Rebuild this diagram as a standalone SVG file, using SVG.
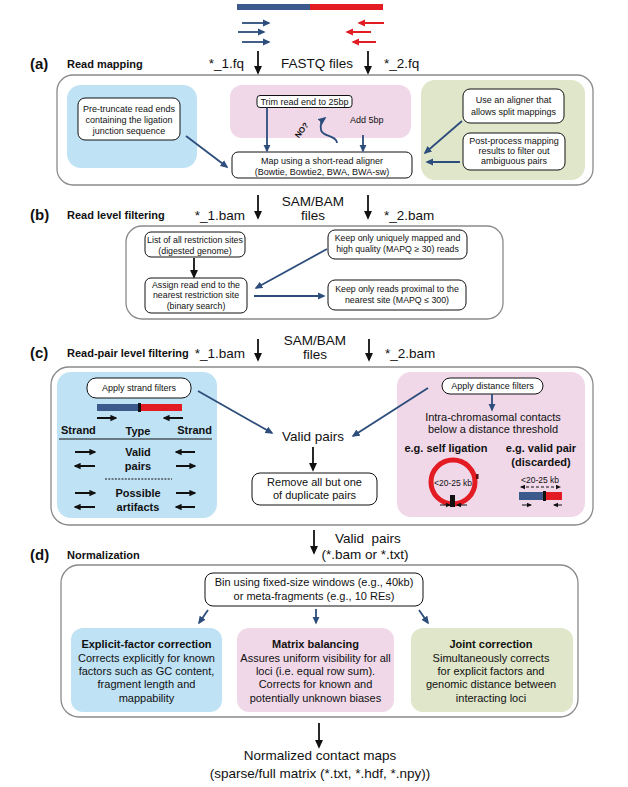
<svg xmlns="http://www.w3.org/2000/svg" width="628" height="787" viewBox="0 0 628 787">
<defs>
<marker id="bh" viewBox="0 0 10 10" refX="8" refY="5" markerWidth="9" markerHeight="9" markerUnits="userSpaceOnUse" orient="auto"><path d="M0,0.5 L10,5 L0,9.5 z" fill="#111"/></marker>
<marker id="nh" viewBox="0 0 10 10" refX="8" refY="5" markerWidth="8" markerHeight="8" markerUnits="userSpaceOnUse" orient="auto"><path d="M0,0.5 L10,5 L0,9.5 z" fill="#2d4d7c"/></marker>
<marker id="rh" viewBox="0 0 10 10" refX="8" refY="5" markerWidth="8" markerHeight="8" markerUnits="userSpaceOnUse" orient="auto"><path d="M0,0.5 L10,5 L0,9.5 z" fill="#e31b23"/></marker>
<marker id="sh" viewBox="0 0 10 10" refX="8" refY="5" markerWidth="7" markerHeight="7" markerUnits="userSpaceOnUse" orient="auto"><path d="M0,0.5 L10,5 L0,9.5 z" fill="#111"/></marker>
<marker id="th" viewBox="0 0 10 10" refX="8" refY="5" markerWidth="5" markerHeight="5" markerUnits="userSpaceOnUse" orient="auto-start-reverse"><path d="M0,0.5 L10,5 L0,9.5 z" fill="#111"/></marker>
</defs>
<style>
text{font-family:"Liberation Sans",Arial,Helvetica,sans-serif;fill:#111}
.big{font-size:13.5px}
.lab{font-size:15px;font-weight:bold}
.hdr{font-size:11px;font-weight:bold}
.s9{font-size:9px}
.s88{font-size:8.8px}
.s11{font-size:11px}
.b11{font-size:11px;font-weight:bold}
.m{text-anchor:middle}
.e{text-anchor:end}
.outer{fill:#fff;stroke:#8a8a8a;stroke-width:1.3}
.box{fill:#fff;stroke:#111;stroke-width:1}
.blue{fill:#bfe2f5}
.pink{fill:#f0d8e8}
.green{fill:#dfe6c9}
.bk{stroke:#111;stroke-width:1.8;fill:none;marker-end:url(#bh)}
.nv{stroke:#2d4d7c;stroke-width:1.8;fill:none;marker-end:url(#nh)}
.rd{stroke:#e31b23;stroke-width:2;fill:none;marker-end:url(#rh)}
.sa{stroke:#111;stroke-width:2;fill:none;marker-end:url(#sh)}
.ta{stroke:#111;stroke-width:1;fill:none;marker-end:url(#th)}
</style>
<rect width="628" height="787" fill="#fff"/>

<!-- top reads -->
<g id="reads">
<rect x="237" y="4" width="73" height="6" fill="#3c5a8c"/>
<rect x="310" y="4" width="73" height="6" fill="#e31b23"/>
<line class="nv" x1="242" y1="23" x2="269" y2="23" stroke-width="2"/>
<line class="nv" x1="238" y1="32" x2="264" y2="32" stroke-width="2"/>
<line class="nv" x1="242" y1="42" x2="269" y2="42" stroke-width="2"/>
<line class="rd" x1="384" y1="23" x2="359" y2="23"/>
<line class="rd" x1="371" y1="32" x2="347" y2="32"/>
<line class="rd" x1="376" y1="42" x2="353" y2="42"/>
</g>

<!-- section (a) -->
<g id="sectionA">
<text class="lab" x="30" y="69">(a)</text>
<text class="hdr" x="67" y="68">Read mapping</text>
<text class="big e" x="244" y="68">*_1.fq</text>
<text class="big m" x="317" y="68">FASTQ files</text>
<text class="big" x="384" y="68">*_2.fq</text>
<rect class="outer" x="57" y="75" width="536" height="110" rx="16"/>
<rect class="blue" x="67" y="85" width="130" height="83" rx="14"/>
<rect class="pink" x="230" y="85" width="181" height="53" rx="12"/>
<rect class="green" x="421" y="80" width="164" height="100" rx="14"/>
</g>
<g id="pretruncate">
<rect class="box" x="78" y="98" width="102" height="42" rx="7"/>
<text class="s9 m" x="129" y="112">Pre-truncate read ends</text>
<text class="s9 m" x="129" y="123">containing the ligation</text>
<text class="s9 m" x="129" y="134">junction sequence</text>
</g>
<g id="trim">
<rect class="box" x="257" y="95.5" width="95" height="12" rx="3"/>
<text class="s9 m" x="304.5" y="104.5">Trim read end to 25bp</text>
</g>
<g id="add5">
<text class="s9" x="350" y="123">Add 5bp</text>
</g>
<g id="no">
<text x="301.5" y="133" font-size="8" font-weight="bold" text-anchor="middle" transform="rotate(-53 301.5 130)">NO?</text>
</g>
<g id="map">
<rect class="box" x="232" y="152" width="180" height="26" rx="6"/>
<text class="s9 m" x="322" y="164">Map using a short-read aligner</text>
<text class="s9 m" x="322" y="175">(Bowtie, Bowtie2, BWA, BWA-sw)</text>
</g>
<g id="splitmap">
<rect class="box" x="463" y="89" width="101" height="34" rx="7"/>
<text class="s9 m" x="513.5" y="103">Use an aligner that</text>
<text class="s9 m" x="513.5" y="114.5">allows split mappings</text>
</g>
<g id="postprocess">
<rect class="box" x="463" y="133" width="102" height="37" rx="7"/>
<text class="s9 m" x="514" y="144">Post-process mapping</text>
<text class="s9 m" x="514" y="154">results to filter out</text>
<text class="s9 m" x="514" y="164">ambiguous pairs</text>
</g>

<!-- section (b) -->
<g id="sectionB">
<text class="lab" x="30" y="220">(b)</text>
<text class="hdr" x="67" y="219">Read level filtering</text>
<text class="big e" x="245" y="220">*_1.bam</text>
<text class="big m" x="313" y="206">SAM/BAM</text>
<text class="big m" x="313" y="220">files</text>
<text class="big" x="384" y="220">*_2.bam</text>
<rect class="outer" x="126" y="226" width="377" height="93" rx="16"/>
</g>
<g id="sites">
<rect class="box" x="145" y="232" width="100" height="25" rx="6"/>
<text class="s88 m" x="195" y="243">List of all restriction sites</text>
<text class="s88 m" x="195" y="253.5">(digested genome)</text>
</g>
<g id="assign">
<rect class="box" x="145" y="278" width="102" height="35" rx="6"/>
<text class="s88 m" x="196" y="287.5">Assign read end to the</text>
<text class="s88 m" x="196" y="298">nearest restriction site</text>
<text class="s88 m" x="196" y="308.5">(binary search)</text>
</g>
<g id="uniq">
<rect class="box" x="328" y="230" width="139" height="29" rx="7"/>
<text class="s88 m" x="397.5" y="241">Keep only uniquely mapped and</text>
<text class="s88 m" x="397.5" y="252">high quality (MAPQ ≥ 30) reads</text>
</g>
<g id="proximal">
<rect class="box" x="328" y="280" width="138" height="30" rx="7"/>
<text class="s88 m" x="397" y="292">Keep only reads proximal to the</text>
<text class="s88 m" x="397" y="303">nearest site (MAPQ ≤ 300)</text>
</g>

<!-- section (c) -->
<g id="sectionC">
<text class="lab" x="30" y="358">(c)</text>
<text class="hdr" x="67" y="357">Read-pair level filtering</text>
<text class="big e" x="245" y="358">*_1.bam</text>
<text class="big m" x="315" y="345">SAM/BAM</text>
<text class="big m" x="315" y="359">files</text>
<text class="big" x="385" y="358">*_2.bam</text>
<rect class="outer" x="51" y="367" width="542" height="158" rx="18"/>
<rect class="blue" x="57" y="372" width="160" height="146" rx="14"/>
<rect class="pink" x="397" y="372" width="188" height="145" rx="14"/>
</g>
<g id="strand">
<rect class="box" x="87" y="378" width="104" height="20" rx="9"/>
<text class="s9 m" x="139" y="391">Apply strand filters</text>
<rect x="97" y="404" width="42" height="7" fill="#3c5a8c"/>
<rect x="141" y="404" width="41" height="7" fill="#e31b23"/>
<rect x="138" y="403" width="3" height="9" fill="#111"/>
<line class="sa" x1="97" y1="418" x2="116" y2="418"/>
<line class="sa" x1="183" y1="418" x2="164" y2="418"/>
<text class="b11" x="61" y="434">Strand</text>
<text class="b11 m" x="138" y="435">Type</text>
<text class="b11 e" x="212" y="434">Strand</text>
<line x1="59" y1="439" x2="212" y2="439" stroke="#111" stroke-width="1"/>
<text class="b11 m" x="138" y="456">Valid</text>
<text class="b11 m" x="138" y="470">pairs</text>
<line x1="105" y1="479" x2="172" y2="479" stroke="#111" stroke-width="1.2" stroke-dasharray="2,1.3"/>
<text class="b11 m" x="138" y="497">Possible</text>
<text class="b11 m" x="138" y="511">artifacts</text>
<line class="sa" x1="75" y1="452" x2="95" y2="452"/>
<line class="sa" x1="195" y1="452" x2="176" y2="452"/>
<line class="sa" x1="95" y1="466" x2="75" y2="466"/>
<line class="sa" x1="176" y1="466" x2="195" y2="466"/>
<line class="sa" x1="75" y1="493" x2="95" y2="493"/>
<line class="sa" x1="176" y1="493" x2="195" y2="493"/>
<line class="sa" x1="95" y1="507" x2="75" y2="507"/>
<line class="sa" x1="195" y1="507" x2="176" y2="507"/>
</g>
<g id="validpairs">
<text class="big m" x="313" y="441">Valid pairs</text>
</g>
<g id="dedup">
<rect class="box" x="252" y="473" width="125" height="32" rx="8"/>
<text class="s11 m" x="314.5" y="486">Remove all but one</text>
<text class="s11 m" x="314.5" y="499">of duplicate pairs</text>
</g>
<g id="distance">
<rect class="box" x="442" y="378" width="101" height="16" rx="8"/>
<text class="s9 m" x="492.5" y="389">Apply distance filters</text>
<text class="s11 m" x="493" y="421">Intra-chromasomal contacts</text>
<text class="s11 m" x="493" y="433">below a distance threshold</text>
<text class="b11 m" x="446" y="452">e.g. self ligation</text>
<text class="b11 m" x="541" y="452">e.g. valid pair</text>
<text class="b11 m" x="541" y="466">(discarded)</text>
<circle cx="453" cy="482" r="22" fill="none" stroke="#e31b23" stroke-width="5"/>
<rect x="476" y="474" width="2.5" height="5" fill="#5a1010"/>
<rect x="450" y="495" width="5" height="12" fill="#111"/>
<text class="m" x="453" y="486" font-size="8.5">&lt;20-25 kb</text>
<line class="ta" x1="440" y1="505" x2="450" y2="505"/>
<line class="ta" x1="467" y1="505" x2="457" y2="505"/>
<text class="m" x="540" y="483" font-size="8.5">&lt;20-25 kb</text>
<line x1="521" y1="487" x2="560" y2="487" stroke="#111" stroke-width="1" stroke-dasharray="3,2" marker-start="url(#th)" marker-end="url(#th)"/>
<rect x="519" y="492" width="25" height="8" fill="#3c5a8c"/>
<rect x="546" y="492" width="16" height="8" fill="#e31b23"/>
<rect x="543" y="491" width="3" height="10" fill="#111"/>
<line class="ta" x1="522" y1="505" x2="531" y2="505"/>
<line class="ta" x1="562" y1="505" x2="554" y2="505"/>
</g>

<!-- section (d) -->
<g id="sectionD">
<text class="big" x="335" y="543" xml:space="preserve">Valid  pairs</text>
<text class="big m" x="365" y="559">(*.bam or *.txt)</text>
<text class="lab" x="30" y="560">(d)</text>
<text class="hdr" x="67" y="559">Normalization</text>
<rect class="outer" x="61" y="565" width="517" height="152" rx="18"/>
</g>
<g id="bin">
<rect class="box" x="205" y="573" width="218" height="33" rx="8"/>
<text class="s11 m" x="314" y="586">Bin using fixed-size windows (e.g., 40kb)</text>
<text class="s11 m" x="314" y="599.5">or meta-fragments (e.g., 10 REs)</text>
</g>
<g id="explicit">
<rect class="blue" x="71" y="628" width="151" height="84" rx="12"/>
<text class="b11 m" x="146.5" y="648">Explicit-factor correction</text>
<text class="s11 m" x="146.5" y="661.5">Corrects explicitly for known</text>
<text class="s11 m" x="146.5" y="675">factors such as GC content,</text>
<text class="s11 m" x="146.5" y="688">fragment length and</text>
<text class="s11 m" x="146.5" y="701.5">mappability</text>
</g>
<g id="balancing">
<rect class="pink" x="237" y="628" width="157" height="84" rx="12"/>
<text class="b11 m" x="315.5" y="648">Matrix balancing</text>
<text class="s11 m" x="315.5" y="661.5">Assures uniform visibility for all</text>
<text class="s11 m" x="315.5" y="675">loci (i.e. equal row sum).</text>
<text class="s11 m" x="315.5" y="688">Corrects for known and</text>
<text class="s11 m" x="315.5" y="701.5">potentially unknown biases</text>
</g>
<g id="joint">
<rect class="green" x="411" y="628" width="162" height="84" rx="12"/>
<text class="b11 m" x="491" y="648">Joint correction</text>
<text class="s11 m" x="491" y="661.5">Simultaneously corrects</text>
<text class="s11 m" x="491" y="675">for explicit factors and</text>
<text class="s11 m" x="491" y="688">genomic distance between</text>
<text class="s11 m" x="491" y="701.5">interacting loci</text>
</g>
<g id="output">
<text class="big m" x="320" y="760">Normalized contact maps</text>
<text class="big m" x="320" y="778">(sparse/full matrix (*.txt, *.hdf, *.npy))</text>
</g>

<!-- connectors -->
<g id="connectors">
<line class="bk" x1="258" y1="51" x2="258" y2="73"/>
<line class="bk" x1="368" y1="51" x2="368" y2="73"/>
<line class="nv" x1="267" y1="107.5" x2="267" y2="151"/>
<line class="nv" x1="363" y1="135" x2="363" y2="151"/>
<path class="nv" d="M337,143 C337,135 322,137 321,130 C320,125 321,121 325,118"/>
<line class="nv" x1="186" y1="136" x2="227" y2="167"/>
<line class="nv" x1="462" y1="121" x2="425" y2="153"/>
<line class="nv" x1="460" y1="162" x2="427" y2="162"/>
<line class="bk" x1="258" y1="195" x2="258" y2="218"/>
<line class="bk" x1="368" y1="195" x2="368" y2="218"/>
<line class="bk" x1="194" y1="258" x2="194" y2="277"/>
<line class="nv" x1="327" y1="249" x2="256" y2="288"/>
<line class="nv" x1="254" y1="296" x2="324" y2="296"/>
<line class="bk" x1="258" y1="339" x2="258" y2="360"/>
<line class="bk" x1="369" y1="339" x2="369" y2="360"/>
<line class="nv" x1="198" y1="391" x2="272" y2="433"/>
<line class="nv" x1="428" y1="388" x2="353" y2="436"/>
<line class="nv" x1="492" y1="394" x2="492" y2="410"/>
<line class="bk" x1="313" y1="447" x2="313" y2="470"/>
<line class="bk" x1="314" y1="530" x2="314" y2="553"/>
<line class="nv" x1="208" y1="610" x2="199" y2="623"/>
<line class="nv" x1="316" y1="609" x2="316" y2="623"/>
<line class="nv" x1="419" y1="610" x2="428" y2="623"/>
<line class="bk" x1="319" y1="723" x2="319" y2="747"/>
</g>
</svg>
